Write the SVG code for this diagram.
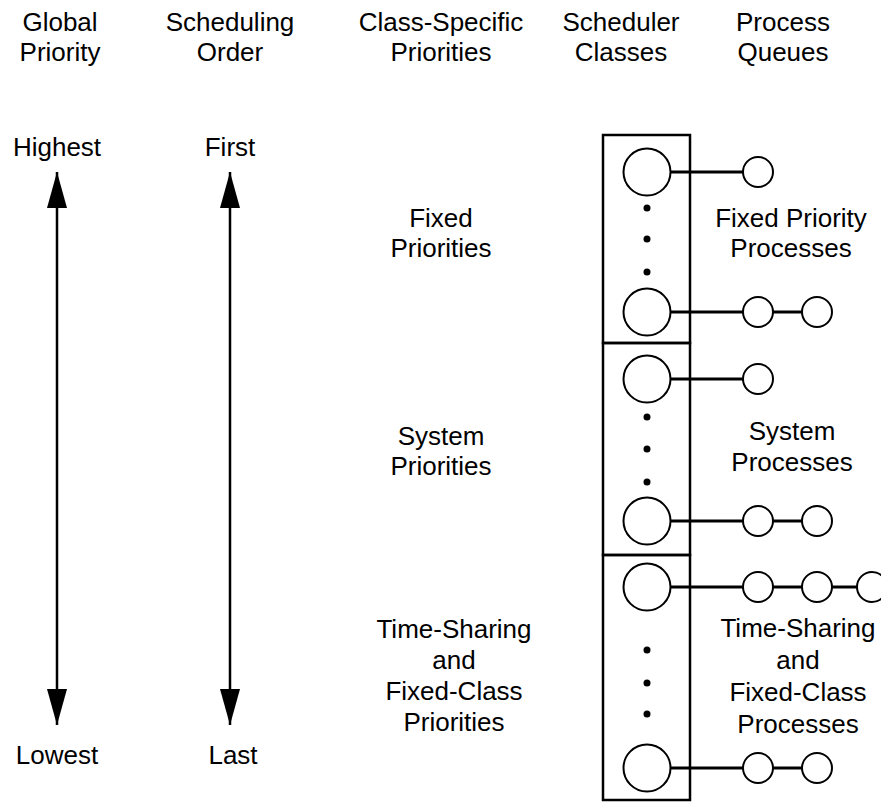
<svg xmlns="http://www.w3.org/2000/svg" width="881" height="803" viewBox="0 0 881 803">
  <defs>
    <style>
      text { font-family: "Liberation Sans", Arial, sans-serif; font-size: 26px; fill: #000; text-anchor: middle; }
      .frame { fill: none; stroke: #000; stroke-width: 2.5; }
      .cls { fill: #fff; stroke: #000; stroke-width: 2; }
      .proc { fill: #fff; stroke: #000; stroke-width: 2; }
      .link { stroke: #000; stroke-width: 3; fill: none; }
      .shaft { stroke: #000; stroke-width: 2.5; fill: none; }
      .dot { fill: #000; }
    </style>
    <marker id="head" viewBox="0 0 36 20" refX="36" refY="10" markerWidth="36" markerHeight="20" markerUnits="userSpaceOnUse" orient="auto-start-reverse">
      <path d="M0,0 L36,10 L0,20 Z" fill="#000"/>
    </marker>
  </defs>

  <!-- column headings -->
  <g id="headings">
    <text x="60" y="31">Global</text>
    <text x="60" y="61">Priority</text>
    <text x="230" y="31">Scheduling</text>
    <text x="230" y="61">Order</text>
    <text x="441" y="31">Class-Specific</text>
    <text x="441" y="61">Priorities</text>
    <text x="621" y="31">Scheduler</text>
    <text x="621" y="61">Classes</text>
    <text x="783" y="31">Process</text>
    <text x="783" y="61">Queues</text>
  </g>

  <!-- range labels -->
  <g id="global-priority">
    <text x="57" y="156">Highest</text>
    <text x="57" y="764">Lowest</text>
  </g>
  <g id="scheduling-order">
    <text x="230" y="156">First</text>
    <text x="233" y="764">Last</text>
  </g>

  <!-- class-specific priority labels -->
  <g id="fixed-priorities">
    <text x="441" y="227">Fixed</text>
    <text x="441" y="257">Priorities</text>
  </g>
  <g id="system-priorities">
    <text x="441" y="445">System</text>
    <text x="441" y="475">Priorities</text>
  </g>
  <g id="ts-priorities">
    <text x="454" y="638">Time-Sharing</text>
    <text x="454" y="669">and</text>
    <text x="454" y="700">Fixed-Class</text>
    <text x="454" y="731">Priorities</text>
  </g>

  <!-- double-headed range arrows -->
  <g id="connectors">
    <line class="shaft" x1="57" y1="172" x2="57" y2="725" marker-start="url(#head)" marker-end="url(#head)"/>
    <line class="shaft" x1="230" y1="172" x2="230" y2="725" marker-start="url(#head)" marker-end="url(#head)"/>

    <!-- queue links -->
    <line class="link" x1="670" y1="172" x2="743" y2="172"/>
    <line class="link" x1="670" y1="312" x2="743" y2="312"/>
    <line class="link" x1="773" y1="312" x2="802" y2="312"/>

    <line class="link" x1="670" y1="379" x2="743" y2="379"/>
    <line class="link" x1="670" y1="521" x2="743" y2="521"/>
    <line class="link" x1="773" y1="521" x2="802" y2="521"/>

    <line class="link" x1="670" y1="587" x2="743" y2="587"/>
    <line class="link" x1="773" y1="587" x2="802" y2="587"/>
    <line class="link" x1="832" y1="587" x2="857" y2="587"/>
    <line class="link" x1="670" y1="768" x2="743" y2="768"/>
    <line class="link" x1="773" y1="768" x2="802" y2="768"/>
  </g>

  <!-- scheduler class column -->
  <g id="class-fixed">
    <rect class="frame" x="603" y="135" width="87" height="208"/>
    <circle class="cls" cx="647" cy="172" r="23.5"/>
    <circle class="dot" cx="647" cy="208" r="3.5"/>
    <circle class="dot" cx="647" cy="239" r="3.5"/>
    <circle class="dot" cx="647" cy="272" r="3.5"/>
    <circle class="cls" cx="647" cy="312" r="23.5"/>
  </g>
  <g id="class-system">
    <rect class="frame" x="603" y="343" width="87" height="212"/>
    <circle class="cls" cx="647" cy="379" r="23.5"/>
    <circle class="dot" cx="647" cy="417" r="3.5"/>
    <circle class="dot" cx="647" cy="449" r="3.5"/>
    <circle class="dot" cx="647" cy="482" r="3.5"/>
    <circle class="cls" cx="647" cy="521" r="23.5"/>
  </g>
  <g id="class-ts">
    <rect class="frame" x="603" y="555" width="87" height="245"/>
    <circle class="cls" cx="647" cy="587" r="23.5"/>
    <circle class="dot" cx="647" cy="650" r="3.5"/>
    <circle class="dot" cx="647" cy="683" r="3.5"/>
    <circle class="dot" cx="647" cy="714" r="3.5"/>
    <circle class="cls" cx="647" cy="768" r="23.5"/>
  </g>

  <!-- process queues -->
  <g id="queue-fixed">
    <circle class="proc" cx="758" cy="172" r="15"/>
    <circle class="proc" cx="758" cy="312" r="15"/>
    <circle class="proc" cx="817" cy="312" r="15"/>
    <text x="791" y="227">Fixed Priority</text>
    <text x="791" y="257">Processes</text>
  </g>
  <g id="queue-system">
    <circle class="proc" cx="758" cy="379" r="15"/>
    <circle class="proc" cx="758" cy="521" r="15"/>
    <circle class="proc" cx="817" cy="521" r="15"/>
    <text x="792" y="440">System</text>
    <text x="792" y="471">Processes</text>
  </g>
  <g id="queue-ts">
    <circle class="proc" cx="758" cy="587" r="15"/>
    <circle class="proc" cx="817" cy="587" r="15"/>
    <circle class="proc" cx="872" cy="587" r="15"/>
    <circle class="proc" cx="758" cy="768" r="15"/>
    <circle class="proc" cx="817" cy="768" r="15"/>
    <text x="798" y="637">Time-Sharing</text>
    <text x="798" y="669">and</text>
    <text x="798" y="701">Fixed-Class</text>
    <text x="798" y="733">Processes</text>
  </g>
</svg>
